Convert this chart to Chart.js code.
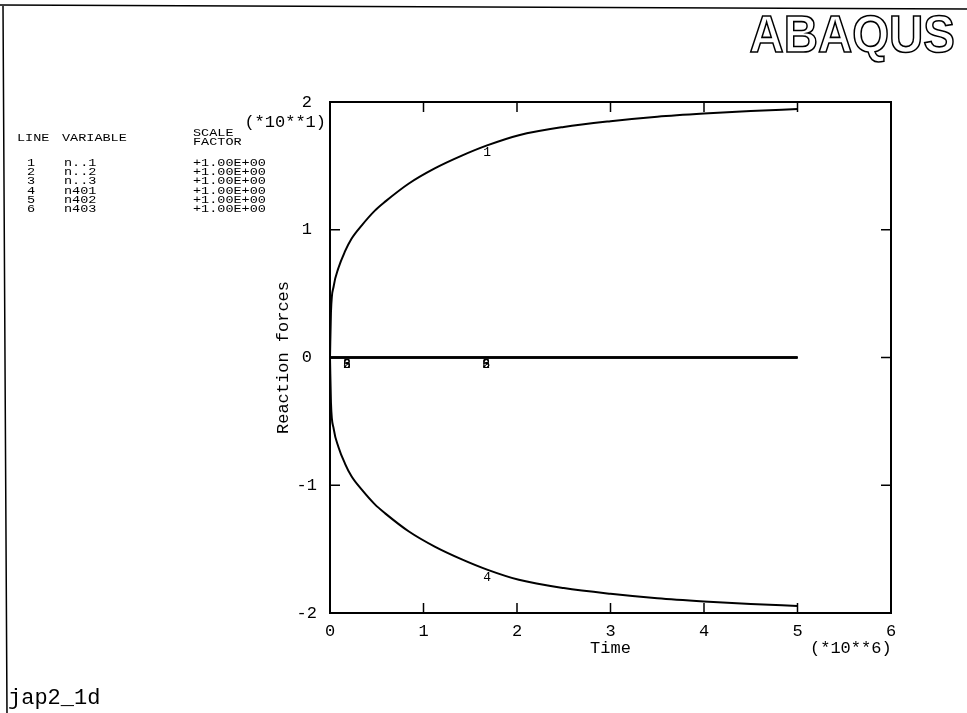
<!DOCTYPE html>
<html>
<head>
<meta charset="utf-8">
<script src="https://cdn.jsdelivr.net/npm/chart.js@4.4.1/dist/chart.umd.min.js"></script>
<style>
  html, body { margin: 0; padding: 0; background: #fff; }
  #wrap { position: relative; width: 967px; height: 713px; }
</style>
</head>
<body>
<div id="wrap"><canvas id="reactionChart" width="967" height="713"></canvas></div>
<script>
// valeurs (temps en 10**6, forces en unités réelles)
const timeValues  = [0, 0.01, 0.04, 0.09, 0.16, 0.23, 0.34, 0.48, 0.59, 0.84, 1.12, 1.41, 1.68, 2.02, 2.5, 3.0, 3.5, 4.0, 4.5, 5.0];
const line1Values = [0, 3.5, 5.6, 7.0, 8.3, 9.3, 10.35, 11.5, 12.2, 13.6, 14.8, 15.8, 16.6, 17.4, 18.05, 18.5, 18.85, 19.1, 19.3, 19.45];
const line4Values = [0, -3.5, -5.6, -7.0, -8.3, -9.3, -10.35, -11.5, -12.2, -13.6, -14.8, -15.8, -16.6, -17.4, -18.05, -18.5, -18.85, -19.1, -19.3, -19.45];
const zeroTimes   = [0, 5.0];
const zeroValues  = [0, 0];

const xTicks = [0, 1, 2, 3, 4, 5, 6];
const yTicks = [-20, -10, 0, 10, 20];

const legendLines     = ['1', '2', '3', '4', '5', '6'];
const legendVariables = ['n..1', 'n..2', 'n..3', 'n401', 'n402', 'n403'];
const legendFactors   = ['+1.00E+00', '+1.00E+00', '+1.00E+00', '+1.00E+00', '+1.00E+00', '+1.00E+00'];

const curveLabelTime = 1.68;        // où ABAQUS a posé les numéros 1 et 4
const zeroLabelTimes = [0.18, 1.67]; // numéros 2, 3, 5, 6 sur la ligne zéro
const zeroLabels     = ['2', '3', '5', '6'];

const MONO = "'Liberation Mono', 'Courier New', monospace";

const toPoints = (xs, ys) => xs.map((x, i) => ({ x: x, y: ys[i] }));

const lineStyle = {
    borderColor: '#000',
    borderWidth: 2,
    pointRadius: 0,
    fill: false,
    cubicInterpolationMode: 'monotone'
};

// Dessine le cadre, les petites graduations vers l'intérieur et tous les textes ABAQUS
const abaqusDecor = {
    id: 'abaqusDecor',
    afterDraw(chart) {
        const ctx = chart.ctx;
        const area = chart.chartArea;
        const xs = chart.scales.x;
        const ys = chart.scales.y;
        ctx.save();
        ctx.strokeStyle = '#000';
        ctx.fillStyle = '#000';

        // bord de la page
        ctx.lineWidth = 1.5;
        ctx.beginPath();
        ctx.moveTo(0, 5); ctx.lineTo(967, 9);
        ctx.moveTo(3, 5); ctx.lineTo(7, 713);
        ctx.stroke();

        // cadre du graphe
        ctx.lineWidth = 2;
        ctx.strokeRect(area.left, area.top, area.right - area.left, area.bottom - area.top);

        // graduations
        const tl = 10;
        ctx.beginPath();
        xTicks.slice(1, -1).forEach(v => {
            const px = xs.getPixelForValue(v);
            ctx.moveTo(px, area.bottom); ctx.lineTo(px, area.bottom - tl);
            ctx.moveTo(px, area.top); ctx.lineTo(px, area.top + tl);
        });
        yTicks.slice(1, -1).forEach(v => {
            const py = ys.getPixelForValue(v);
            ctx.moveTo(area.left, py); ctx.lineTo(area.left + tl, py);
            ctx.moveTo(area.right, py); ctx.lineTo(area.right - tl, py);
        });
        ctx.lineWidth = 1.5;
        ctx.stroke();

        // numéros des courbes
        ctx.font = '13px ' + MONO;
        ctx.textAlign = 'center';
        ctx.textBaseline = 'top';
        const idx = timeValues.indexOf(curveLabelTime);
        ctx.fillText('1', xs.getPixelForValue(curveLabelTime), ys.getPixelForValue(line1Values[idx]) + 1);
        ctx.fillText('4', xs.getPixelForValue(curveLabelTime), ys.getPixelForValue(line4Values[idx]) + 1);
        zeroLabelTimes.forEach(t => {
            zeroLabels.forEach(l => {
                ctx.fillText(l, xs.getPixelForValue(t), ys.getPixelForValue(0) + 1);
            });
        });

        // titres des axes et facteurs d'échelle
        ctx.font = '17px ' + MONO;
        ctx.textBaseline = 'middle';
        ctx.textAlign = 'center';
        ctx.fillText('Time', (area.left + area.right) / 2, 648);
        ctx.textAlign = 'right';
        ctx.fillText('(*10**1)', 326, 122);
        ctx.textAlign = 'left';
        ctx.fillText('(*10**6)', 810, 648);
        ctx.save();
        ctx.translate(283, (area.top + area.bottom) / 2);
        ctx.rotate(-Math.PI / 2);
        ctx.textAlign = 'center';
        ctx.fillText('Reaction forces', 0, 0);
        ctx.restore();

        // légende à gauche (police large et basse comme sur le traceur)
        ctx.save();
        ctx.font = '13.5px ' + MONO;
        ctx.textAlign = 'left';
        ctx.scale(1, 0.8);
        const ly = y => y / 0.8;
        ctx.fillText('LINE', 17, ly(138));
        ctx.fillText('VARIABLE', 62, ly(138));
        ctx.fillText('SCALE', 193, ly(133));
        ctx.fillText('FACTOR', 193, ly(142));
        legendLines.forEach((l, i) => {
            const y = 163 + i * 9.3;
            ctx.fillText(l, 27, ly(y));
            ctx.fillText(legendVariables[i], 64, ly(y));
            ctx.fillText(legendFactors[i], 193, ly(y));
        });
        ctx.restore();

        // nom du fichier
        ctx.font = '22px ' + MONO;
        ctx.textAlign = 'left';
        ctx.fillText('jap2_1d', 8, 698);

        // logo
        ctx.save();
        ctx.translate(955, 52);
        ctx.scale(0.93, 1);
        ctx.font = 'bold 51px "Liberation Sans", Arial, sans-serif';
        ctx.textAlign = 'right';
        ctx.textBaseline = 'alphabetic';
        ctx.fillStyle = '#fff';
        ctx.fillText('ABAQUS', 0, 0);
        ctx.lineWidth = 1.6;
        ctx.strokeText('ABAQUS', 0, 0);
        ctx.restore();

        ctx.restore();
    }
};

const chart = new Chart(document.getElementById('reactionChart'), {
    type: 'line',
    data: {
        datasets: [
            Object.assign({ label: 'n..1', data: toPoints(timeValues, line1Values) }, lineStyle),
            Object.assign({ label: 'n..2', data: toPoints(zeroTimes, zeroValues) }, lineStyle),
            Object.assign({ label: 'n..3', data: toPoints(zeroTimes, zeroValues) }, lineStyle),
            Object.assign({ label: 'n401', data: toPoints(timeValues, line4Values) }, lineStyle),
            Object.assign({ label: 'n402', data: toPoints(zeroTimes, zeroValues) }, lineStyle),
            Object.assign({ label: 'n403', data: toPoints(zeroTimes, zeroValues) }, lineStyle)
        ]
    },
    options: {
        responsive: false,
        animation: false,
        devicePixelRatio: 1,
        layout: { padding: { top: 102, right: 76, left: 0, bottom: 0 } },
        scales: {
            x: {
                type: 'linear',
                min: 0,
                max: 6,
                afterBuildTicks: s => { s.ticks = xTicks.map(v => ({ value: v })); },
                afterFit: s => { s.height = 100; },
                grid: { display: false, drawTicks: false },
                border: { display: false },
                ticks: {
                    color: '#000',
                    font: { family: MONO, size: 17 },
                    padding: 8,
                    maxRotation: 0,
                    callback: v => String(v)
                }
            },
            y: {
                type: 'linear',
                min: -20,
                max: 20,
                afterBuildTicks: s => { s.ticks = yTicks.map(v => ({ value: v })); },
                afterFit: s => { s.width = 330; },
                grid: { display: false, drawTicks: false },
                border: { display: false },
                ticks: {
                    color: '#000',
                    font: { family: MONO, size: 17 },
                    padding: 13,
                    crossAlign: 'center',
                    callback: v => String(v / 10)
                }
            }
        },
        plugins: {
            legend: { display: false },
            title: { display: false },
            tooltip: { enabled: false }
        }
    },
    plugins: [abaqusDecor]
});
</script>
</body>
</html>
